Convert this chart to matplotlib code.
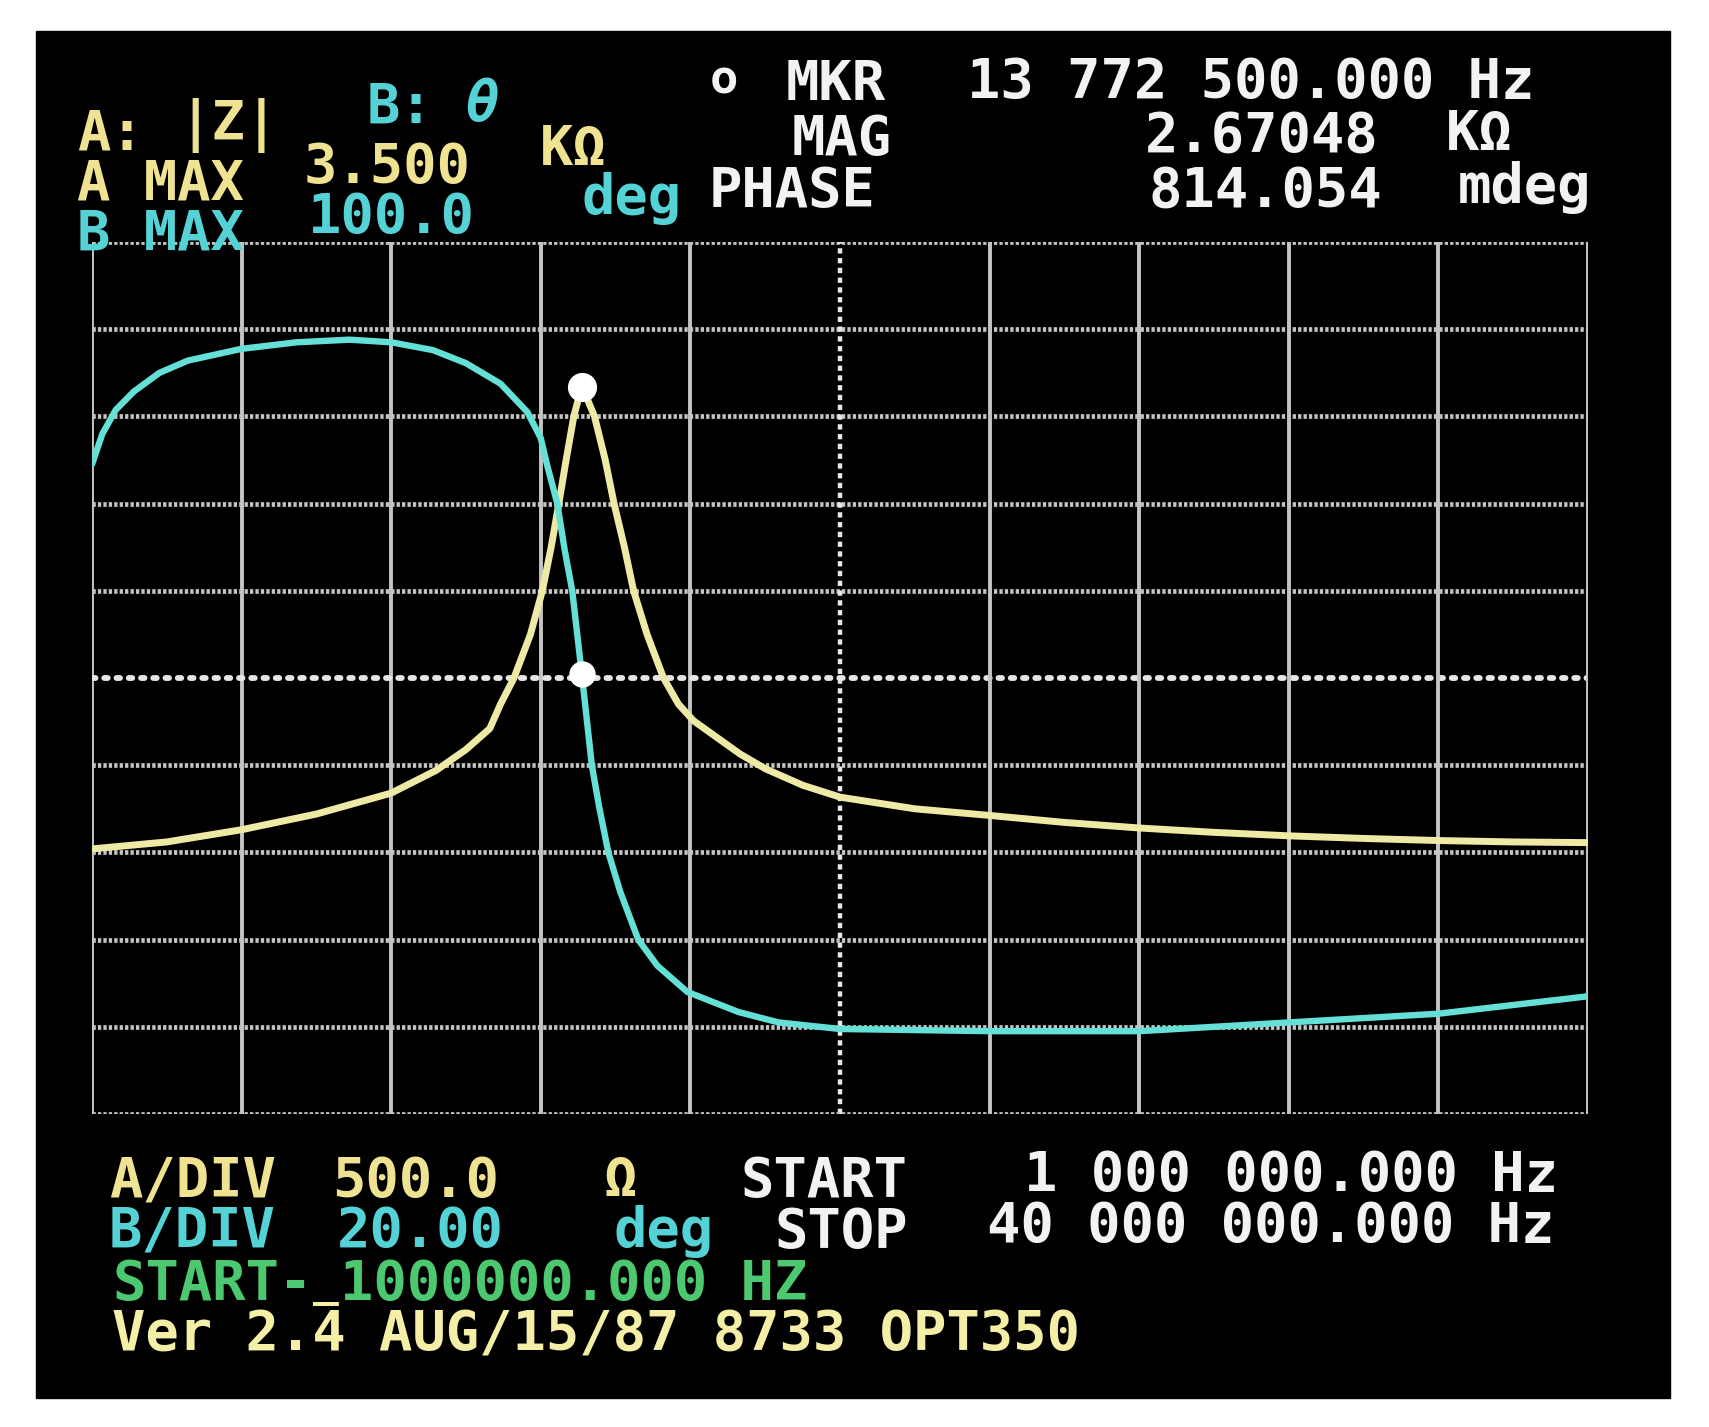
import matplotlib
matplotlib.use("Agg")
import matplotlib.pyplot as plt
from matplotlib.patches import Rectangle

# sweep / scale settings shown on the analyzer screen
f_start = 1.0      # MHz
f_stop = 40.0      # MHz
a_max = 3500.0     # ohm
a_div = 500.0      # ohm/div
b_max = 100.0      # deg
b_div = 20.0       # deg/div

# marker readout
mkr_freq = 13.7725     # MHz
mkr_mag = 2670.48      # ohm
mkr_phase = 0.814      # deg

# trace A: |Z| in ohm vs frequency in MHz
mag_freq = [1.00, 2.95, 4.90, 6.85, 8.80, 9.97, 10.75, 11.37, 11.65, 12.00,
            12.43, 12.74, 12.97, 13.17, 13.36, 13.56, 13.77, 14.10, 14.38,
            14.61, 14.88, 15.12, 15.47, 15.90, 16.29, 16.68, 17.89, 18.55,
            19.53, 20.50, 22.45, 24.40, 26.35, 28.30, 30.25, 32.20, 34.15,
            36.10, 38.05, 40.00]
mag_ohm = [20, 60, 130, 220, 340, 470, 590, 710, 850, 1000,
           1250, 1500, 1750, 2000, 2250, 2500, 2675, 2500, 2250,
           2000, 1750, 1500, 1250, 1000, 850, 755, 565, 480,
           385, 317, 250, 212, 172, 140, 115, 95, 80,
           68, 60, 56]

# trace B: phase in deg vs frequency in MHz
phase_freq = [1.00, 1.27, 1.62, 2.09, 2.76, 3.50, 4.90, 6.34, 7.71, 8.80,
              9.89, 10.75, 11.65, 12.35, 12.70, 12.86, 13.13, 13.32, 13.52,
              13.77, 14.03, 14.22, 14.46, 14.77, 15.24, 15.74, 16.52, 17.85,
              18.90, 20.50, 24.40, 28.30, 32.20, 36.10, 40.00]
phase_deg = [49, 56, 61.5, 65.7, 70, 72.8, 75.5, 77, 77.6, 77,
             75.2, 72.2, 67.5, 61, 55, 49, 40, 29.5, 20,
             0.8, -20, -29.5, -40, -49, -60, -66, -72, -76.6,
             -79, -80.5, -81, -81, -79, -77, -73]

W, H = 1709, 1427
YEL = "#efe290"
CYA = "#55d2d6"
WHT = "#f2f2f2"
GRN = "#4cc870"
GRID = "#c4c4c4"

fig = plt.figure(figsize=(W / 100, H / 100), dpi=100, facecolor="white")
fig.add_artist(Rectangle((36 / W, 1 - 1398 / H), (1670 - 36) / W, (1398 - 31) / H,
                         transform=fig.transFigure, color="black", zorder=0))

ax = fig.add_axes([92 / W, 1 - 1114 / H, (1588 - 92) / W, (1114 - 242) / H])
ax.set_xlim(f_start, f_stop)
ax.set_ylim(a_max - 10 * a_div, a_max)
ax.set_axis_off()
ax2 = ax.twinx()
ax2.set_ylim(b_max - 10 * b_div, b_max)
ax2.set_axis_off()

# graticule, 10 x 10 divisions
for i in range(11):
    x = f_start + i * (f_stop - f_start) / 10
    y = a_max - i * a_div
    if i == 5:
        ax.axvline(x, color="#e6e6e6", lw=3.2, ls=(0, (1.2, 1.0)), zorder=1)
        ax.axhline(y, color="#e6e6e6", lw=4.2, ls=(0, (0.6, 1.5)),
                   dash_capstyle="round", zorder=1)
    else:
        ax.axvline(x, color=GRID, lw=2.8, zorder=1)
        ax.axhline(y, color=GRID, lw=3.4, ls=(0, (0.7, 0.45)), zorder=1)

# traces
ax.plot(mag_freq, mag_ohm, color="#eeeaa6", lw=5.0, solid_joinstyle="round",
        solid_capstyle="round", zorder=3)
ax2.plot(phase_freq, phase_deg, color="#64e0d6", lw=4.6, solid_joinstyle="round",
         solid_capstyle="round", zorder=2)
ax.plot([mkr_freq], [mkr_mag], "o", color="white", ms=20, zorder=4)
ax2.plot([mkr_freq], [mkr_phase], "o", color="white", ms=18, zorder=4)


def put(x, y, s, color, size=40, **kw):
    fig.text(x / W, 1 - y / H, s, color=color, fontsize=size,
             family="DejaVu Sans Mono", weight="bold", ha="left",
             va="baseline", **kw)


# header, left block
put(77, 150, "A:", YEL)
put(178, 140, "|Z|", YEL)
put(367, 123, "B:", CYA)
put(465, 121, "\u03b8", CYA, style="italic")
put(77, 200, "A MAX", YEL)
put(304, 183, "3.500", YEL)
put(540, 165, "K\u03a9", YEL)
put(77, 250, "B MAX", CYA)
put(308, 233, "100.0", CYA)
put(582, 214, "deg", CYA)

# header, marker block
put(710, 93, "o", WHT, size=34)
put(786, 100, "MKR", WHT)
put(967, 98, "13 772 500.000 Hz", WHT)
put(792, 155, "MAG", WHT)
put(1145, 152, "2.67048", WHT)
put(1446, 150, "K\u03a9", WHT)
put(709, 207, "PHASE", WHT)
put(1148, 207, "814.054", WHT)
put(1458, 203, "mdeg", WHT)

# footer
put(109, 1197, "A/DIV", YEL)
put(332, 1197, "500.0", YEL)
put(604, 1196, "\u03a9", YEL)
put(109, 1247, "B/DIV", CYA)
put(337, 1247, "20.00", CYA)
put(613, 1247, "deg", CYA)
put(741, 1197, "START", WHT)
put(774, 1248, "STOP", WHT)
put(1024, 1191, "1 000 000.000 Hz", WHT)
put(987, 1242, "40 000 000.000 Hz", WHT)
put(112, 1300, "START-", GRN)
put(340, 1300, "1000000.000 HZ", GRN)
put(313, 1296, "_", "#f4eea6", size=31)
put(112, 1350, "Ver 2.4 AUG/15/87 8733 OPT350", "#f4eea6")

fig.savefig("out.png", dpi=100, facecolor="white")
